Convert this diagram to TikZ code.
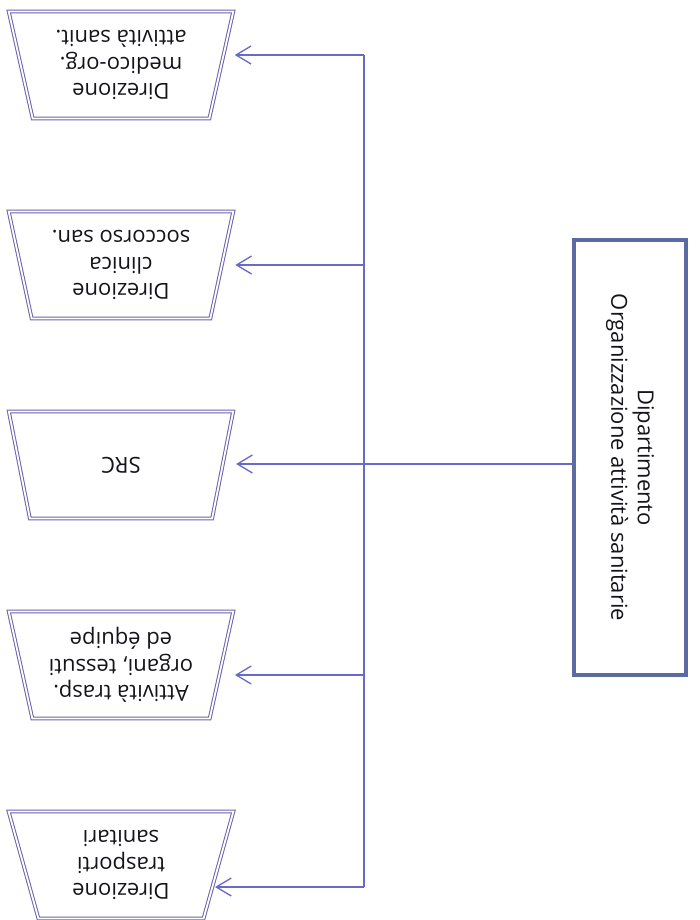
\documentclass[tikz,border=0pt]{standalone}
\usepackage{fontspec}
\setmainfont{Open Sans}
\usetikzlibrary{arrows.meta,shapes.geometric,positioning}

\definecolor{linkblue}{RGB}{104,106,200}
\definecolor{officeline}{RGB}{108,98,172}
\definecolor{deptline}{RGB}{92,106,162}
\definecolor{inktext}{RGB}{20,20,26}

\begin{document}
\begin{tikzpicture}[x=1pt,y=1pt,>={Straight Barb[length=15pt,width=18pt]},
                    node distance=200pt,text=inktext,
                    font=\fontsize{22}{26.5}\selectfont,
                    office/.style={trapezium,trapezium angle=76,trapezium stretches=true,
                      minimum width=225pt,minimum height=107pt,inner sep=2pt,
                      align=center,rotate=180,draw=officeline,line width=1pt,
                      double,double distance=1.8pt},
                    dept/.style={rectangle,draw=deptline,line width=4.5pt,
                      minimum width=435pt,minimum height=112pt,align=center,rotate=-90},
                    link/.style={linkblue,line width=1.3pt}]
  \useasboundingbox[fill=white] (0,0) rectangle (699,-920);
  \node[office] (medorg) at (121,-65) {Direzione\\medico-org.\\attività sanit.};
  \node (clinica) [below of=medorg,office] {Direzione\\clinica\\soccorso san.};
  \node (src) [below of=clinica,office] {SRC};
  \node (trapianti) [below of=src,office] {Attività trasp.\\organi, tessuti\\ed équipe};
  \node (trasporti) [below of=trapianti,office] {Direzione\\trasporti\\sanitari};
  \node[dept] (dip) at (630,-457.5) {Dipartimento\\Organizzazione attività sanitarie};
  \coordinate (b1) at (364,-55);
  \coordinate (b2) at (364,-265);
  \coordinate (b3) at (364,-464);
  \coordinate (b4) at (364,-675);
  \coordinate (b5) at (364,-887);
  \draw[link] (b1) -- (b5);
  \draw[link] (dip.south |- b3) -- (b3);
  \path[link,->,shorten >=13pt]
    (b1) edge (b1 -| medorg.west)
    (b2) edge (b2 -| clinica.west)
    (b3) edge (b3 -| src.west)
    (b4) edge (b4 -| trapianti.west)
    (b5) edge[shorten >=-4pt] (b5 -| trasporti.west);
\end{tikzpicture}
\end{document}
